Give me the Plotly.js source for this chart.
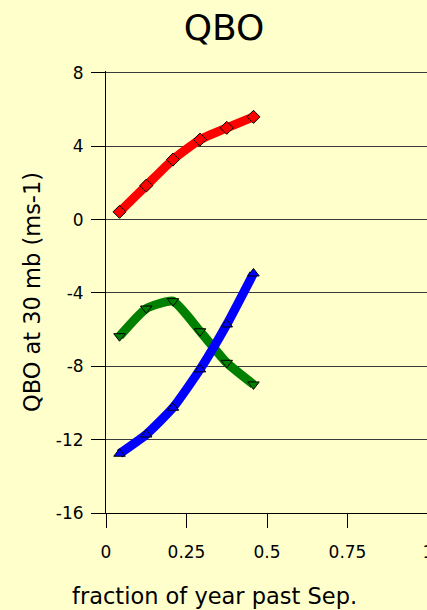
<!DOCTYPE html>
<html>
<head>
<meta charset="utf-8">
<script src="https://cdn.plot.ly/plotly-3.0.1.min.js"></script>
<style>
html,body{margin:0;padding:0;background:#FFFFCC;overflow:hidden;width:427px;height:610px;}
#chart{width:450px;height:610px;}
</style>
</head>
<body>
<div id="chart"></div>
<script>
// fraction of year past September (mid-month, Oct..Mar)
const months = [0.042, 0.125, 0.208, 0.292, 0.375, 0.458];
const redSeries   = [0.42, 1.85, 3.27, 4.36, 5.0, 5.6];
const greenSeries = [-6.36, -4.85, -4.45, -6.09, -7.81, -8.99];
const blueSeries  = [-12.77, -11.72, -10.26, -8.17, -5.72, -2.94];
const yTicks = [-16, -12, -8, -4, 0, 4, 8];
const yTickLabels = ['-16', '-12', '-8', '-4', '0', '4', '8'];
const xTicks = [0, 0.25, 0.5, 0.75, 1];
const xTickLabels = ['0', '0.25', '0.5', '0.75', '1'];

const FONT = 'DejaVu Sans, sans-serif';

function series(y, color, symbol) {
  return {
    x: months, y: y, type: 'scatter', mode: 'lines+markers',
    line: {color: color, width: 9, shape: 'spline', smoothing: 0.5},
    marker: {symbol: symbol, size: 10, color: color, line: {color: '#000', width: 1}},
    cliponaxis: false, showlegend: false, hoverinfo: 'x+y'
  };
}

const data = [
  series(redSeries, '#FF0000', 'diamond'),
  series(greenSeries, '#008000', 'triangle-down'),
  series(blueSeries, '#0000FF', 'triangle-up')
];

const layout = {
  width: 450, height: 610,
  paper_bgcolor: '#FFFFCC', plot_bgcolor: '#FFFFCC',
  margin: {l: 106, r: 22, t: 71, b: 97},
  font: {family: FONT, color: '#000', size: 17},
  title: {text: 'QBO', font: {family: FONT, size: 36, color: '#000'},
          x: 224/450, xanchor: 'center', xref: 'container',
          y: 1 - 27/610, yanchor: 'middle', yref: 'container'},
  xaxis: {
    range: [0, 1], tickvals: xTicks, ticktext: xTickLabels,
    showgrid: false, zeroline: false, showline: true, linecolor: '#000', linewidth: 1,
    ticks: 'outside', ticklen: 14, tickcolor: '#000', tickwidth: 1,
    tickfont: {family: FONT, size: 17, color: '#000'},
    ticklabelstandoff: 10
  },
  yaxis: {
    range: [-16, 8.1], tickvals: yTicks, ticktext: yTickLabels,
    showgrid: true, gridcolor: '#3a3a3a', gridwidth: 1,
    zeroline: false, showline: true, linecolor: '#000', linewidth: 1,
    ticks: 'outside', ticklen: 14, tickcolor: '#000', tickwidth: 1,
    tickfont: {family: FONT, size: 17, color: '#000'},
    ticklabelstandoff: 4,
    title: {text: 'QBO at 30 mb (ms-1)', font: {family: FONT, size: 22.5, color: '#000'}, standoff: 8}
  },
  annotations: [{
    text: 'fraction of year past Sep.', xref: 'paper', yref: 'paper',
    x: (214.5 - 106) / 322, y: 0, xanchor: 'center', yanchor: 'top', yshift: -68,
    showarrow: false, font: {family: FONT, size: 22.5, color: '#000'}
  }]
};

Plotly.newPlot('chart', data, layout, {staticPlot: true, displayModeBar: false});
</script>
</body>
</html>
